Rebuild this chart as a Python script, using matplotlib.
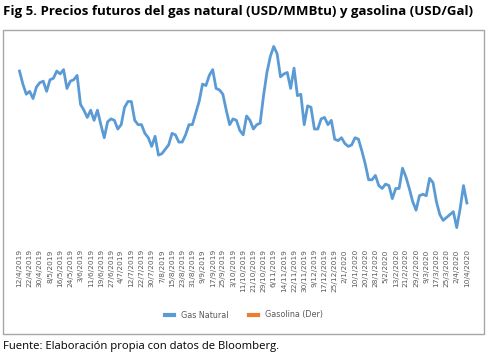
import matplotlib.pyplot as plt
from matplotlib.patches import Rectangle

## data: gas natural price (USD/MMBtu), one value per 1/3 tick step
gas = [2.65, 2.56, 2.49, 2.51, 2.46, 2.54, 2.57, 2.58, 2.51, 2.59,
       2.60, 2.65, 2.63, 2.66, 2.53, 2.58, 2.59, 2.62, 2.42, 2.38,
       2.33, 2.38, 2.31, 2.38, 2.28, 2.19, 2.30, 2.32, 2.31, 2.25,
       2.28, 2.40, 2.44, 2.44, 2.31, 2.28, 2.28, 2.22, 2.19, 2.13,
       2.20, 2.07, 2.08, 2.11, 2.14, 2.22, 2.21, 2.16, 2.16, 2.21,
       2.28, 2.28, 2.36, 2.44, 2.56, 2.55, 2.62, 2.66, 2.53, 2.52,
       2.49, 2.38, 2.28, 2.32, 2.31, 2.24, 2.21, 2.34, 2.31, 2.25,
       2.28, 2.29, 2.48, 2.64, 2.75, 2.82, 2.77, 2.61, 2.63, 2.64,
       2.53, 2.67, 2.48, 2.49, 2.28, 2.41, 2.40, 2.25, 2.25, 2.32,
       2.33, 2.28, 2.31, 2.18, 2.17, 2.19, 2.15, 2.13, 2.14, 2.19,
       2.18, 2.10, 2.01, 1.90, 1.90, 1.93, 1.86, 1.84, 1.87, 1.86,
       1.77, 1.84, 1.84, 1.98, 1.92, 1.84, 1.75, 1.69, 1.79, 1.80,
       1.79, 1.91, 1.88, 1.75, 1.66, 1.62, 1.64, 1.66, 1.68, 1.57,
       1.70, 1.86, 1.74]
gasolina = []  # secondary-axis series, shown only in the legend

dates = ['12/4/2019', '22/4/2019', '30/4/2019', '8/5/2019', '16/5/2019', '24/5/2019',
         '3/6/2019', '11/6/2019', '19/6/2019', '27/6/2019', '4/7/2019', '12/7/2019',
         '22/7/2019', '30/7/2019', '7/8/2019', '15/8/2019', '23/8/2019', '31/8/2019',
         '9/9/2019', '17/9/2019', '25/9/2019', '3/10/2019', '11/10/2019', '21/10/2019',
         '29/10/2019', '6/11/2019', '14/11/2019', '22/11/2019', '30/11/2019', '9/12/2019',
         '17/12/2019', '25/12/2019', '2/1/2020', '10/1/2020', '20/1/2020', '28/1/2020',
         '5/2/2020', '13/2/2020', '21/2/2020', '29/2/2020', '9/3/2020', '17/3/2020',
         '25/3/2020', '2/4/2020', '10/4/2020']
step = 3

W, H = 489, 357
fig = plt.figure(figsize=(W / 100, H / 100), dpi=100)

# outer box of the chart
fig.patches.append(Rectangle((3 / W, 1 - 334 / H), 481 / W, 304 / H, transform=fig.transFigure,
                             fill=False, edgecolor='#a6a6a6', lw=1))

ax = fig.add_axes([19.5 / W, 1 - 245 / H, 447.4 / W, 207 / H])
x = list(range(len(gas)))
ax.plot(x, gas, color='#5b9bd5', lw=2, label='Gas Natural', clip_on=False)
ax.plot(gasolina, gasolina, color='#ed7d31', lw=2, label='Gasolina (Der)')

ax.set_xlim(0, len(gas) - 1)
ax.set_ylim(1.45, 2.878)
ax.set_xticks(range(0, len(gas), step))
ax.set_xticklabels(dates, rotation=90, fontsize=5.3, color='#595959')
ax.tick_params(axis='x', length=0, pad=3)
ax.set_yticks([])
for s in ax.spines.values():
    s.set_visible(False)

leg = fig.legend(loc='center', bbox_to_anchor=(244 / W, 1 - 315 / H), ncol=2, frameon=False,
                 fontsize=5.8, handlelength=1.1, handletextpad=0.8, columnspacing=2.6,
                 labelcolor='#595959')
for line in leg.get_lines():
    line.set_linewidth(3)

fig.text(3 / W, 1 - 12 / H, 'Fig 5. Precios futuros del gas natural (USD/MMBtu) y gasolina (USD/Gal)',
         fontsize=9.5, fontweight='bold', va='center', ha='left', family='Open Sans')
fig.text(3 / W, 1 - 347 / H, 'Fuente: Elaboración propia con datos de Bloomberg.',
         fontsize=8.1, va='center', ha='left', family='Open Sans')

fig.savefig('out.png', dpi=100)
